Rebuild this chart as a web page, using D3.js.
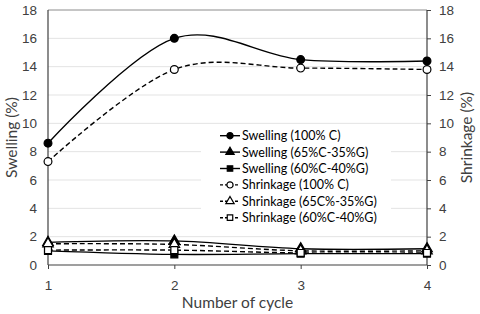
<!DOCTYPE html>
<html>
<head>
<meta charset="utf-8">
<script src="https://cdn.jsdelivr.net/npm/d3@7"></script>
<style>
  body { margin: 0; background: #fff; }
  svg { font-family: Lato, "Open Sans", sans-serif; }
</style>
</head>
<body>
<svg id="chart" width="480" height="314"></svg>
<script>
let cycles = [1, 2, 3, 4];
let yTicks = [0, 2, 4, 6, 8, 10, 12, 14, 16, 18];

let swelling100C = [8.6, 16.0, 14.5, 14.4];
let swelling65C = [1.6, 1.7, 1.15, 1.15];
let swelling60C = [1.0, 0.75, 0.8, 0.8];
let shrinkage100C = [7.3, 13.8, 13.9, 13.8];
let shrinkage65C = [1.5, 1.45, 1.0, 1.0];
let shrinkage60C = [1.05, 1.05, 0.85, 0.85];

let seriesNames = [
  "Swelling (100% C)",
  "Swelling (65%C-35%G)",
  "Swelling (60%C-40%G)",
  "Shrinkage (100% C)",
  "Shrinkage (65C%-35%G)",
  "Shrinkage (60%C-40%G)"
];

let series = [
  { name: seriesNames[0], values: swelling100C, shape: "circle", open: false, dashed: false },
  { name: seriesNames[1], values: swelling65C, shape: "triangle", open: false, dashed: false },
  { name: seriesNames[2], values: swelling60C, shape: "square", open: false, dashed: false },
  { name: seriesNames[3], values: shrinkage100C, shape: "circle", open: true, dashed: true },
  { name: seriesNames[4], values: shrinkage65C, shape: "triangle", open: true, dashed: true },
  { name: seriesNames[5], values: shrinkage60C, shape: "square", open: true, dashed: true }
];

let svg = d3.select("#chart");
let plotLeft = 48, plotRight = 427, plotTop = 10, plotBottom = 265;

let x = d3.scaleLinear().domain([1, 4]).range([plotLeft, plotRight]);
let y = d3.scaleLinear().domain([0, 18]).range([plotBottom, plotTop]);

// gridlines
svg.append("g")
  .selectAll("line")
  .data(yTicks.filter(d => d > 0))
  .enter()
  .append("line")
  .attr("x1", plotLeft).attr("x2", plotRight)
  .attr("y1", d => y(d)).attr("y2", d => y(d))
  .attr("stroke", d => d === 18 ? "#8c8c8c" : "#e3e3e3")
  .attr("stroke-width", 1);

// axes
let leftAxis = svg.append("g")
  .attr("transform", "translate(" + plotLeft + ",0)")
  .call(d3.axisLeft(y).tickValues(yTicks).tickSize(0).tickPadding(11));
let rightAxis = svg.append("g")
  .attr("transform", "translate(" + plotRight + ",0)")
  .call(d3.axisRight(y).tickValues(yTicks).tickSize(4).tickPadding(8));
let bottomAxis = svg.append("g")
  .attr("transform", "translate(0," + plotBottom + ")")
  .call(d3.axisBottom(x).tickValues(cycles).tickFormat(d3.format("d")).tickSize(4).tickPadding(11));

[leftAxis, rightAxis, bottomAxis].forEach(a => {
  a.select(".domain").attr("stroke", "#404040").attr("stroke-width", 1.2);
  a.selectAll(".tick line").attr("stroke", "#404040");
  a.selectAll(".tick text").attr("fill", "#404040").style("font-size", "13.5px");
});
bottomAxis.select(".domain").attr("d", "M" + plotLeft + ",0H" + plotRight);
leftAxis.select(".domain").attr("d", "M0," + plotTop + "V" + plotBottom);
rightAxis.select(".domain").attr("d", "M0," + plotTop + "V" + plotBottom);

// axis titles
svg.append("text")
  .attr("x", (plotLeft + plotRight) / 2).attr("y", 308)
  .attr("text-anchor", "middle")
  .attr("fill", "#404040")
  .style("font-size", "15.5px")
  .text("Number of cycle");
svg.append("text")
  .attr("transform", "translate(17," + (plotTop + plotBottom) / 2 + ") rotate(-90)")
  .attr("text-anchor", "middle")
  .attr("fill", "#404040")
  .style("font-size", "15.5px")
  .text("Swelling (%)");
svg.append("text")
  .attr("transform", "translate(472," + (plotTop + plotBottom) / 2 + ") rotate(-90)")
  .attr("text-anchor", "middle")
  .attr("fill", "#404040")
  .style("font-size", "15.5px")
  .text("Shrinkage (%)");

let symbolType = { circle: d3.symbolCircle, triangle: d3.symbolTriangle, square: d3.symbolSquare };

let drawMarker = (g, s, cx, cy, size) => {
  g.append("path")
    .attr("d", d3.symbol().type(symbolType[s.shape]).size(size)())
    .attr("transform", "translate(" + cx + "," + cy + ")")
    .attr("fill", s.open ? "#fff" : "#000")
    .attr("stroke", "#000")
    .attr("stroke-width", 1.2);
};

let line = d3.line()
  .x((d, i) => x(cycles[i]))
  .y(d => y(d))
  .curve(d3.curveCardinal.tension(0));

series.forEach(s => {
  let g = svg.append("g");
  g.append("path")
    .attr("d", line(s.values))
    .attr("fill", "none")
    .attr("stroke", "#000")
    .attr("stroke-width", 1.4)
    .attr("stroke-dasharray", s.dashed ? "5,3" : null);
  s.values.forEach((v, i) => drawMarker(g, s, x(cycles[i]), y(v), 48));
});

// legend
let legend = svg.append("g");
legend.append("rect")
  .attr("x", 201).attr("y", 126)
  .attr("width", 190).attr("height", 101)
  .attr("fill", "#fff");
series.forEach((s, i) => {
  let ly = 135.7 + i * 16.4;
  let g = legend.append("g");
  g.append("line")
    .attr("x1", 220).attr("x2", 240)
    .attr("y1", ly).attr("y2", ly)
    .attr("stroke", "#000")
    .attr("stroke-width", 1.4)
    .attr("stroke-dasharray", s.dashed ? "3,2" : null);
  drawMarker(g, s, 230, ly, 30);
  g.append("text")
    .attr("x", 242).attr("y", ly + 4.5)
    .attr("fill", "#000")
    .style("font-size", "12.5px")
    .text(s.name);
});
</script>
</body>
</html>
